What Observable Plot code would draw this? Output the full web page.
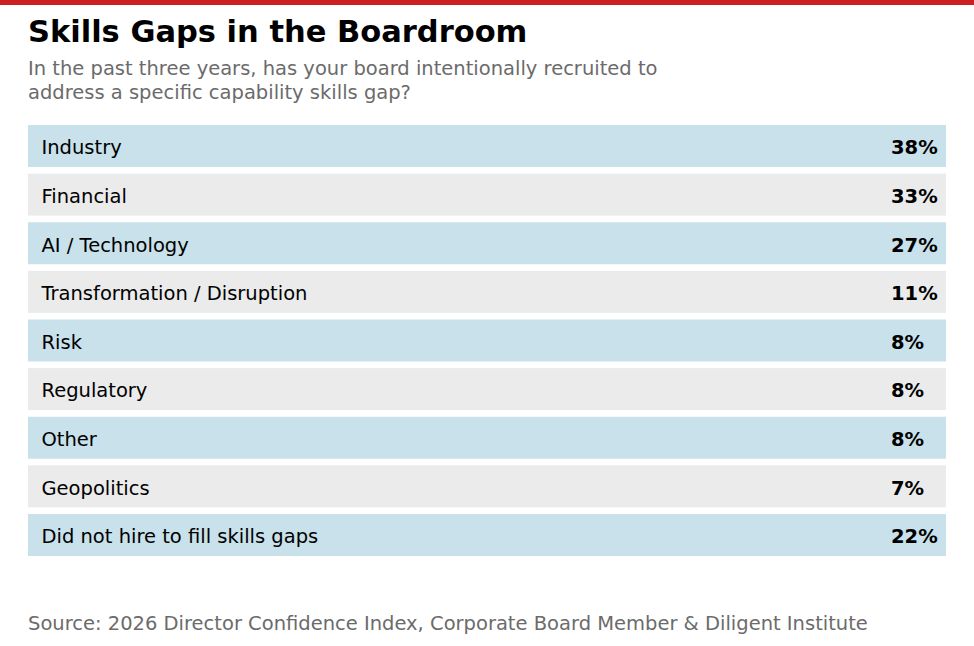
<!DOCTYPE html>
<html>
<head>
<meta charset="utf-8">
<script src="https://cdn.jsdelivr.net/npm/d3@7"></script>
<script src="https://cdn.jsdelivr.net/npm/@observablehq/plot@0.6"></script>
<style>
  html, body { margin: 0; padding: 0; background: #fff; }
  body { width: 974px; height: 646px; position: relative; overflow: hidden; font-family: "DejaVu Sans", sans-serif; }
  #topbar { position: absolute; left: 0; top: 0; width: 974px; height: 5px; background: #cc1f1f; }
  #title { position: absolute; left: 28px; top: 17px; margin: 0; font-size: 30.5px; line-height: 30.5px; font-weight: bold; color: #000; white-space: nowrap; }
  #subtitle { position: absolute; left: 28px; top: 56.5px; margin: 0; font-size: 19.5px; line-height: 24px; color: #6b6b6b; white-space: nowrap; }
  #chart { position: absolute; left: 0; top: 0; }
  #source { position: absolute; left: 28px; top: 612px; margin: 0; font-size: 19.5px; line-height: 24px; color: #6b6b6b; white-space: nowrap; }
</style>
</head>
<body>
<div id="topbar"></div>
<h1 id="title">Skills Gaps in the Boardroom</h1>
<p id="subtitle">In the past three years, has your board intentionally recruited to<br>address a specific capability skills gap?</p>
<div id="chart"></div>
<p id="source">Source: 2026 Director Confidence Index, Corporate Board Member &amp; Diligent Institute</p>
<script>
const categories = ["Industry", "Financial", "AI / Technology", "Transformation / Disruption", "Risk", "Regulatory", "Other", "Geopolitics", "Did not hire to fill skills gaps"];
const values = [38, 33, 27, 11, 8, 8, 8, 7, 22];
const bandColors = ["#c8e1ea", "#ebebeb"];

const data = categories.map((c, i) => ({label: c, value: values[i], shade: bandColors[i % 2]}));

const chart = Plot.plot({
  width: 974,
  height: 646,
  marginTop: 125,
  marginBottom: 90,
  marginLeft: 28,
  marginRight: 28,
  style: {fontFamily: "DejaVu Sans, sans-serif", background: "transparent"},
  y: {domain: categories, paddingInner: 0.136, paddingOuter: 0, round: false, axis: null},
  color: {type: "identity"},
  marks: [
    Plot.cell(data, {y: "label", fill: "shade"}),
    Plot.text(data, {y: "label", text: "label", frameAnchor: "left", textAnchor: "start", dx: 13, dy: 1.5, fontSize: 19.5, fill: "#000"}),
    Plot.text(data, {y: "label", text: d => d.value + "%", frameAnchor: "right", textAnchor: "start", dx: -55.5, dy: 1.5, fontSize: 19.5, fontWeight: "bold", fill: "#000"})
  ]
});
document.getElementById("chart").appendChild(chart);
</script>
</body>
</html>
